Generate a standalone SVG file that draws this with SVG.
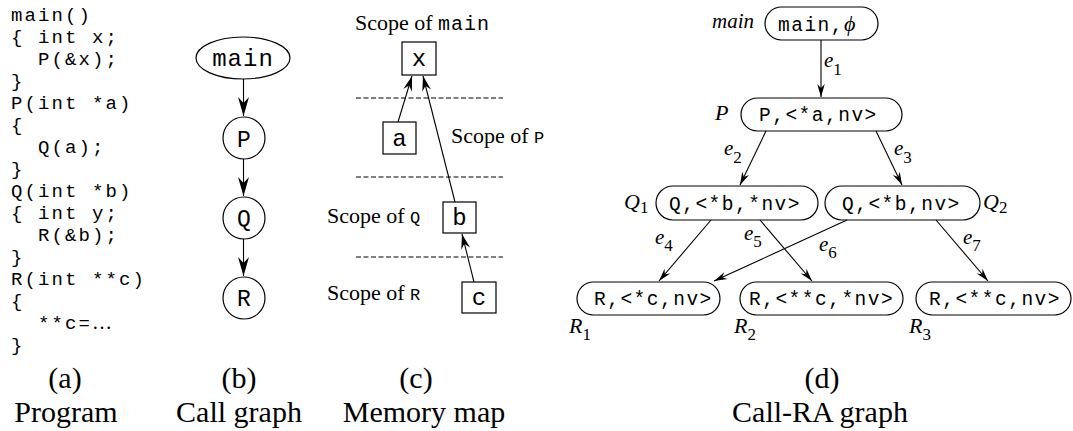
<svg xmlns="http://www.w3.org/2000/svg" width="1073" height="431" viewBox="0 0 1073 431">
<style>
  .code { font-family: "Liberation Mono", "Courier New", monospace; font-size: 19px; letter-spacing: 2.1px; fill: #000; }
  .mono { font-family: "Liberation Mono", "Courier New", monospace; fill: #000; }
  .node { font-family: "Liberation Mono", "Courier New", monospace; font-size: 19.5px; letter-spacing: 1.5px; fill: #000; }
  .serif { font-family: "Liberation Serif", "Times New Roman", serif; fill: #000; }
  .it { font-family: "Liberation Serif", "Times New Roman", serif; font-style: italic; fill: #000; }
  .sub { font-family: "Liberation Serif", "Times New Roman", serif; font-style: normal; font-size: 17px; }
  .cap { font-family: "Liberation Serif", "Times New Roman", serif; font-size: 30px; fill: #000; text-anchor: middle; }
  .shape { fill: #fff; stroke: #000; stroke-width: 1.2; }
  .edge { fill: none; stroke: #000; stroke-width: 1.1; }
  .dash { fill: none; stroke: #000; stroke-width: 1; stroke-dasharray: 5 2.5; }
</style>
<defs>
  <marker id="big" viewBox="-20 -6 22 12" refX="0" refY="0" markerWidth="22" markerHeight="12" markerUnits="userSpaceOnUse" orient="auto" overflow="visible">
    <path d="M0,0 L-19,-5.5 L-13,0 L-19,5.5 Z" fill="#000"/>
  </marker>
  <marker id="mid" viewBox="-16 -5 18 10" refX="0" refY="0" markerWidth="18" markerHeight="10" markerUnits="userSpaceOnUse" orient="auto" overflow="visible">
    <path d="M0,0 L-15,-4.5 L-10,0 L-15,4.5 Z" fill="#000"/>
  </marker>
  <marker id="sm" viewBox="-14 -5 16 10" refX="0" refY="0" markerWidth="16" markerHeight="10" markerUnits="userSpaceOnUse" orient="auto" overflow="visible">
    <path d="M0,0 L-13,-3.8 L-9,0 L-13,3.8 Z" fill="#000"/>
  </marker>
</defs>

<!-- (a) Program -->
<g id="program">
  <text class="code" x="11" y="21">main()</text>
  <text class="code" x="11" y="43">{ int x;</text>
  <text class="code" x="38" y="65">P(&amp;x);</text>
  <text class="code" x="11" y="87">}</text>
  <text class="code" x="11" y="109">P(int *a)</text>
  <text class="code" x="11" y="131">{</text>
  <text class="code" x="38" y="153">Q(a);</text>
  <text class="code" x="11" y="175">}</text>
  <text class="code" x="11" y="197">Q(int *b)</text>
  <text class="code" x="11" y="219">{ int y;</text>
  <text class="code" x="38" y="241">R(&amp;b);</text>
  <text class="code" x="11" y="263">}</text>
  <text class="code" x="11" y="285">R(int **c)</text>
  <text class="code" x="11" y="307">{</text>
  <text class="code" x="38" y="329">**c=<tspan class="serif" font-size="20" letter-spacing="0">…</tspan></text>
  <text class="code" x="11" y="351">}</text>
</g>

<!-- (b) Call graph -->
<g id="cg-main">
  <ellipse class="shape" cx="243" cy="58" rx="47" ry="21"/>
  <text class="mono" x="243" y="66" font-size="24" letter-spacing="1" text-anchor="middle">main</text>
</g>
<g id="cg-P">
  <circle class="shape" cx="244" cy="138" r="21"/>
  <text class="mono" x="244" y="147" font-size="23" text-anchor="middle">P</text>
</g>
<g id="cg-Q">
  <circle class="shape" cx="244" cy="218" r="21"/>
  <text class="mono" x="244" y="226" font-size="23" text-anchor="middle">Q</text>
</g>
<g id="cg-R">
  <circle class="shape" cx="244" cy="298" r="21"/>
  <text class="mono" x="244" y="306" font-size="23" text-anchor="middle">R</text>
</g>
<g id="cg-edges">
  <line class="edge" x1="243.5" y1="79" x2="243.5" y2="116" marker-end="url(#big)"/>
  <line class="edge" x1="243.5" y1="159" x2="243.5" y2="196" marker-end="url(#big)"/>
  <line class="edge" x1="243.5" y1="239" x2="243.5" y2="276" marker-end="url(#big)"/>
</g>

<!-- (c) Memory map -->
<g id="mm-labels">
  <text class="serif" x="355" y="30" font-size="22">Scope of <tspan class="mono" font-size="20" letter-spacing="1">main</tspan></text>
  <text class="serif" x="451" y="143" font-size="22">Scope of <tspan class="mono" font-size="17">P</tspan></text>
  <text class="serif" x="327" y="223" font-size="22">Scope of <tspan class="mono" font-size="17">Q</tspan></text>
  <text class="serif" x="327" y="300" font-size="22">Scope of <tspan class="mono" font-size="17">R</tspan></text>
  <line class="dash" x1="356" y1="98" x2="503" y2="98"/>
  <line class="dash" x1="356" y1="177" x2="503" y2="177"/>
  <line class="dash" x1="356" y1="257" x2="503" y2="257"/>
</g>
<g id="mm-x">
  <rect class="shape" x="402" y="42" width="34" height="33"/>
  <text class="mono" x="419" y="66" font-size="24" text-anchor="middle">x</text>
</g>
<g id="mm-a">
  <rect class="shape" x="383" y="122" width="33" height="32"/>
  <text class="mono" x="399.5" y="146" font-size="24" text-anchor="middle">a</text>
</g>
<g id="mm-b">
  <rect class="shape" x="443" y="202" width="33" height="31"/>
  <text class="mono" x="459.5" y="225" font-size="24" text-anchor="middle">b</text>
</g>
<g id="mm-c">
  <rect class="shape" x="462" y="282" width="34" height="31"/>
  <text class="mono" x="479" y="305" font-size="24" text-anchor="middle">c</text>
</g>
<g id="mm-edges">
  <line class="edge" x1="398" y1="122" x2="412" y2="76" marker-end="url(#mid)"/>
  <line class="edge" x1="455" y1="202" x2="423" y2="76" marker-end="url(#mid)"/>
  <line class="edge" x1="474" y1="282" x2="462" y2="234" marker-end="url(#mid)"/>
</g>

<!-- (d) Call-RA graph -->
<g id="ra-main">
  <rect class="shape" x="765" y="7" width="113" height="33" rx="16.5"/>
  <text class="node" x="778" y="31">main,<tspan class="it" font-size="22" letter-spacing="0">ϕ</tspan></text>
  <text class="it" x="712" y="28" font-size="21">main</text>
</g>
<g id="ra-P">
  <rect class="shape" x="741" y="98" width="161" height="33" rx="16.5"/>
  <text class="node" x="759" y="121">P,&lt;*a,nv&gt;</text>
  <text class="it" x="715" y="120" font-size="22">P</text>
</g>
<g id="ra-Q1">
  <rect class="shape" x="656" y="186" width="162" height="34" rx="17"/>
  <text class="node" x="669" y="210">Q,&lt;*b,*nv&gt;</text>
  <text class="it" x="624" y="209" font-size="22">Q<tspan class="sub" dy="4">1</tspan></text>
</g>
<g id="ra-Q2">
  <rect class="shape" x="825" y="186" width="155" height="34" rx="17"/>
  <text class="node" x="842" y="210">Q,&lt;*b,nv&gt;</text>
  <text class="it" x="983" y="209" font-size="22">Q<tspan class="sub" dy="4">2</tspan></text>
</g>
<g id="ra-R1">
  <rect class="shape" x="577" y="282" width="143" height="33" rx="16.5"/>
  <text class="node" x="594" y="305">R,&lt;*c,nv&gt;</text>
  <text class="it" x="569" y="333" font-size="22">R<tspan class="sub" dy="7">1</tspan></text>
</g>
<g id="ra-R2">
  <rect class="shape" x="740" y="282" width="163" height="33" rx="16.5"/>
  <text class="node" x="749" y="305">R,&lt;**c,*nv&gt;</text>
  <text class="it" x="734" y="333" font-size="22">R<tspan class="sub" dy="7">2</tspan></text>
</g>
<g id="ra-R3">
  <rect class="shape" x="916" y="282" width="155" height="33" rx="16.5"/>
  <text class="node" x="929" y="305">R,&lt;**c,nv&gt;</text>
  <text class="it" x="909" y="333" font-size="22">R<tspan class="sub" dy="7">3</tspan></text>
</g>
<g id="ra-edges">
  <line class="edge" x1="821" y1="40" x2="821" y2="97" marker-end="url(#sm)"/>
  <line class="edge" x1="766" y1="131" x2="740" y2="185" marker-end="url(#sm)"/>
  <line class="edge" x1="876" y1="131" x2="902" y2="185" marker-end="url(#sm)"/>
  <line class="edge" x1="711" y1="220" x2="659" y2="281" marker-end="url(#sm)"/>
  <line class="edge" x1="760" y1="220" x2="812" y2="281" marker-end="url(#sm)"/>
  <line class="edge" x1="847" y1="220" x2="714" y2="281" marker-end="url(#sm)"/>
  <line class="edge" x1="936" y1="220" x2="988" y2="281" marker-end="url(#sm)"/>
  <text class="it" x="824" y="67" font-size="21">e<tspan class="sub" dy="8">1</tspan></text>
  <text class="it" x="724" y="155" font-size="21">e<tspan class="sub" dy="8">2</tspan></text>
  <text class="it" x="894" y="155" font-size="21">e<tspan class="sub" dy="8">3</tspan></text>
  <text class="it" x="655" y="244" font-size="21">e<tspan class="sub" dy="7">4</tspan></text>
  <text class="it" x="744" y="240" font-size="21">e<tspan class="sub" dy="7">5</tspan></text>
  <text class="it" x="819" y="251" font-size="21">e<tspan class="sub" dy="7">6</tspan></text>
  <text class="it" x="963" y="244" font-size="21">e<tspan class="sub" dy="7">7</tspan></text>
</g>

<!-- Captions -->
<g id="captions">
  <text class="cap" x="65" y="388">(a)</text>
  <text class="cap" x="66" y="422">Program</text>
  <text class="cap" x="239" y="388">(b)</text>
  <text class="cap" x="239" y="422">Call graph</text>
  <text class="cap" x="416" y="388">(c)</text>
  <text class="cap" x="424" y="422">Memory map</text>
  <text class="cap" x="822" y="388">(d)</text>
  <text class="cap" x="820" y="422">Call-RA graph</text>
</g>
</svg>
